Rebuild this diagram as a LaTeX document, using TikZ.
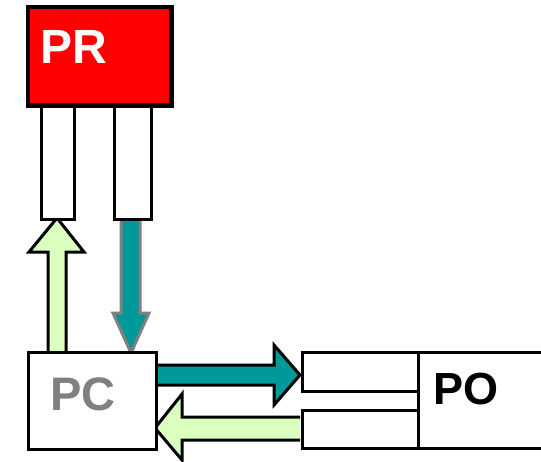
\documentclass[tikz,border=0pt]{standalone}
\usepackage{fontspec}
\setmainfont{Liberation Sans}
\definecolor{lgreen}{HTML}{DBFFBF}
\definecolor{teal2}{HTML}{009999}
\definecolor{pcgray}{HTML}{808080}
\begin{document}
\begin{tikzpicture}[x=1pt,y=-1pt,
  box/.style={draw=black,line width=3pt,fill=white,inner sep=0pt,anchor=north west},
  fatarrow/.style={line width=3pt,line join=miter}]
\useasboundingbox (0,0) rectangle (541,461);
\clip (0,0) rectangle (541,461);
% arrows
\draw[fatarrow,fill=lgreen,draw=black] (48,351) -- (48,252) -- (29,252) -- (57,218) -- (84,252) -- (66,252) -- (66,351);
\draw[fatarrow,fill=teal2,draw=pcgray] (121,215) -- (140,215) -- (140,313) -- (149,313) -- (131,353) -- (113,313) -- (121,313) -- cycle;
\draw[fatarrow,fill=teal2,draw=black] (155,365) -- (274,365) -- (274,345) -- (300,375) -- (274,405) -- (274,385) -- (155,385);
\draw[fatarrow,fill=lgreen,draw=black] (300,417) -- (182,417) -- (182,394) -- (155,428) -- (182,460) -- (182,440) -- (300,440);
% boxes
\node[box,fill=red,minimum width=142pt,minimum height=97pt] (pr) at (27,6) {};
\node[box,minimum width=33pt,minimum height=114pt] (rl) at (40,104) {};
\node[box,minimum width=37pt,minimum height=114pt] (rr) at (113,104) {};
\node[box,minimum width=128pt,minimum height=97pt] (pc) at (27,351) {};
\node[box,minimum width=116pt,minimum height=39pt] (ou) at (301,351) {};
\node[box,minimum width=116pt,minimum height=38pt] (ol) at (301,409) {};
\node[box,minimum width=140pt,minimum height=96pt] (po) at (417,351) {};
\draw[line width=3pt] (pr.south west) rectangle (pr.north east);
% labels
\node[anchor=base west,inner sep=0pt,text=white,font=\fontsize{48}{48}\selectfont\bfseries] (prt) at (40,63) {PR};
\node[anchor=base west,inner sep=0pt,text=pcgray,font=\fontsize{47}{47}\selectfont\bfseries] (pct) at (50,410) {PC};
\node[anchor=base west,inner sep=0pt,text=black,font=\fontsize{45}{45}\selectfont\bfseries] (pot) at (433,404) {PO};
\end{tikzpicture}
\end{document}
